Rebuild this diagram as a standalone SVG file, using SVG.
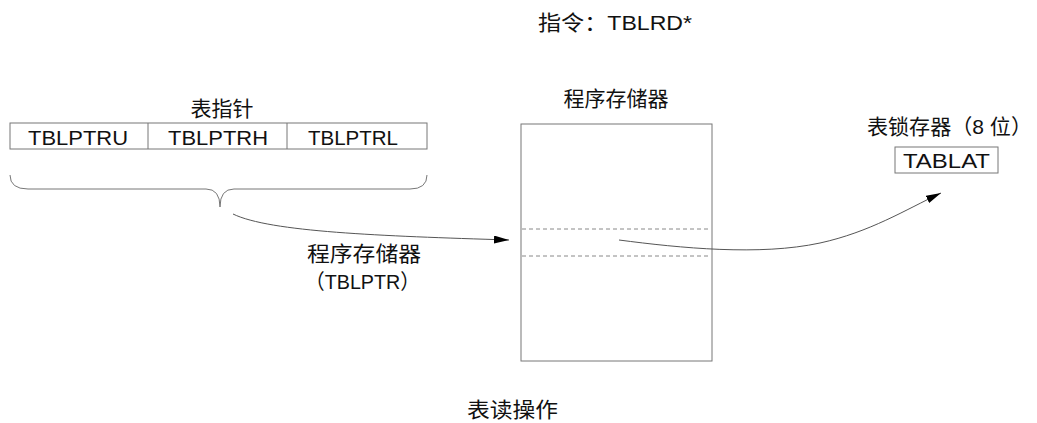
<svg xmlns="http://www.w3.org/2000/svg" width="1037" height="423" viewBox="0 0 1037 423">
<style>
text{font-family:"Liberation Sans","Noto Sans CJK SC",sans-serif;font-size:21px;fill:#111;dominant-baseline:central}
.box{fill:#fff;stroke:#777;stroke-width:1}
.dash{stroke:#888;stroke-width:1;stroke-dasharray:4 3;fill:none}
.conn{fill:none;stroke:#555;stroke-width:1}
.brace{fill:none;stroke:#777;stroke-width:1}
</style>
<defs>
<marker id="ah" markerUnits="userSpaceOnUse" markerWidth="16" markerHeight="10" refX="15" refY="4" orient="auto">
<path d="M0,0 L15,4 L0,8 z" fill="#000"/>
</marker>
</defs>
<rect width="1037" height="423" fill="#fff"/>
<g id="title"><text x="615" y="22" text-anchor="middle" textLength="154" lengthAdjust="spacingAndGlyphs">指令：TBLRD*</text></g>
<g id="tblptr">
<text x="222" y="108" text-anchor="middle">表指针</text>
<rect class="box" x="10" y="123" width="417" height="26"/>
<line x1="148" y1="123" x2="148" y2="149" stroke="#777"/>
<line x1="287" y1="123" x2="287" y2="149" stroke="#777"/>
<text x="28" y="137" textLength="100" lengthAdjust="spacingAndGlyphs">TBLPTRU</text>
<text x="168" y="137" textLength="100" lengthAdjust="spacingAndGlyphs">TBLPTRH</text>
<text x="308" y="137" textLength="90" lengthAdjust="spacingAndGlyphs">TBLPTRL</text>
<path class="brace" d="M10,175 Q10,189 28,189 L206,189 Q220,189 220,207 Q220,189 234,189 L410,189 Q427,189 427,175"/>
</g>
<g id="memory">
<text x="616" y="98" text-anchor="middle">程序存储器</text>
<rect class="box" x="521" y="124" width="191" height="237"/>
<line class="dash" x1="522" y1="229" x2="711" y2="229"/>
<line class="dash" x1="522" y1="256" x2="711" y2="256"/>
</g>
<g id="tablat">
<text x="867" y="126" textLength="165" lengthAdjust="spacingAndGlyphs">表锁存器（8 位）</text>
<rect class="box" x="895" y="147" width="103" height="26"/>
<text x="903" y="160" textLength="87" lengthAdjust="spacingAndGlyphs">TABLAT</text>
</g>
<g id="connectors">
<path class="conn" d="M233,214 C270,232 380,236 509,240" marker-end="url(#ah)"/>
<path class="conn" d="M619,240 C680,248 760,256 820,243 C870,232 905,210 941,193" marker-end="url(#ah)"/>
</g>
<g id="labels">
<text x="307" y="253" textLength="114" lengthAdjust="spacingAndGlyphs">程序存储器</text>
<text x="305" y="281" textLength="115" lengthAdjust="spacingAndGlyphs">（TBLPTR）</text>
<text x="467" y="409" textLength="91" lengthAdjust="spacingAndGlyphs">表读操作</text>
</g>
</svg>
